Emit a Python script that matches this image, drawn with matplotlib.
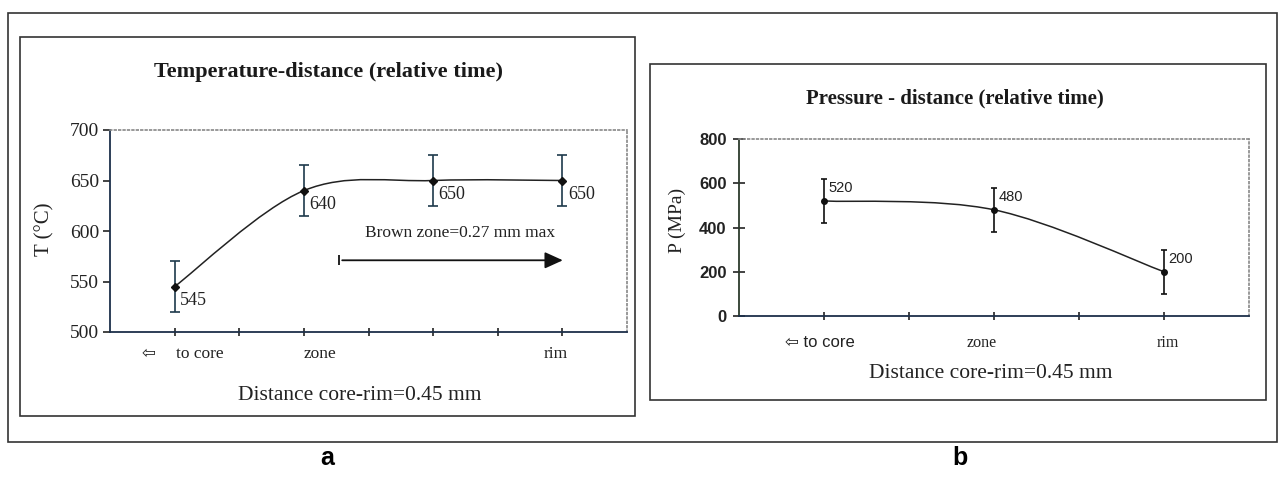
import matplotlib
matplotlib.use('Agg')
import matplotlib.pyplot as plt
from matplotlib.path import Path
from matplotlib.patches import PathPatch, Rectangle

# ---- data ----
temp_pos = [1, 3, 5, 7]
temp_vals = [545, 640, 650, 650]
temp_err = [25, 25, 25, 25]
temp_labels = ['545', '640', '650', '650']

press_pos = [1, 3, 5]
press_vals = [520, 480, 200]
press_err = [100, 100, 100]
press_labels = ['520', '480', '200']

temp_cats = ['\u21e6', 'to core', 'zone', 'rim']
press_cats = ['\u21e6 to core', 'zone', 'rim']

W, H = 1282, 482
SERIF = ['Liberation Serif', 'DejaVu Sans']
SANS = ['Liberation Sans', 'DejaVu Sans']


def fx(x):
    return x / W


def fy(y):
    return 1 - y / H


def smooth_path(xs, ys):
    # excel-like smoothed line: cubic bezier through the points
    pts = list(zip(xs, ys))
    n = len(pts)
    verts = [pts[0]]
    codes = [Path.MOVETO]
    for i in range(n - 1):
        p0 = pts[i - 1] if i > 0 else pts[i]
        p1 = pts[i]
        p2 = pts[i + 1]
        p3 = pts[i + 2] if i + 2 < n else pts[i + 1]
        c1 = (p1[0] + (p2[0] - p0[0]) / 6, p1[1] + (p2[1] - p0[1]) / 6)
        c2 = (p2[0] - (p3[0] - p1[0]) / 6, p2[1] - (p3[1] - p1[1]) / 6)
        verts += [c1, c2, p2]
        codes += [Path.CURVE4] * 3
    return Path(verts, codes)


fig = plt.figure(figsize=(W / 100, H / 100), dpi=100)

# frames round the whole figure and round each chart
for x0, y0, x1, y1 in [(8, 13, 1277, 442), (20, 37, 635, 416), (650, 64, 1266, 400)]:
    fig.patches.append(Rectangle((fx(x0), fy(y1)), fx(x1 - x0), (y1 - y0) / H,
                                 transform=fig.transFigure, fill=False,
                                 edgecolor='#333333', lw=1.2))

# ---------- a: temperature ----------
ax1 = fig.add_axes([fx(110), fy(332), fx(517), 202 / H])
ax1.add_patch(PathPatch(smooth_path(temp_pos, temp_vals), fill=False,
                        edgecolor='#222222', lw=1.1))
ax1.errorbar(temp_pos, temp_vals, yerr=temp_err, fmt='D', ms=4, color='#111111',
             ecolor='#1e3a4c', elinewidth=1.2, capsize=3.5, capthick=1.2)
for x, y, s in zip(temp_pos, temp_vals, temp_labels):
    ax1.annotate(s, (x, y), xytext=(4, -4), textcoords='offset points',
                 ha='left', va='top', fontsize=13, family=SERIF, color='#222222')
ax1.set_xlim(0, 8)
ax1.set_ylim(500, 700)
ax1.set_yticks([500, 550, 600, 650, 700])
ax1.set_xticks(range(1, 8))
ax1.set_xticklabels([])
ax1.tick_params(axis='y', direction='out', length=5, width=1.2, labelsize=14,
                colors='#222222', pad=3)
ax1.tick_params(axis='x', direction='inout', length=6, width=1.2, colors='#222222')
for t in ax1.get_yticklabels():
    t.set_family(SERIF)
ax1.spines['left'].set_color('#1c2f4a')
ax1.spines['bottom'].set_color('#1c2f4a')
ax1.spines['left'].set_linewidth(1.3)
ax1.spines['bottom'].set_linewidth(1.3)
for s in ['top', 'right']:
    ax1.spines[s].set_color('#888888')
    ax1.spines[s].set_linestyle(':')
    ax1.spines[s].set_linewidth(1.2)

tr1 = ax1.get_xaxis_transform()
ax1.text(0.59, -0.11, temp_cats[0], transform=tr1, ha='center', va='center',
         fontsize=12, family=SERIF, color='#222222')
ax1.text(1.02, -0.11, temp_cats[1], transform=tr1, ha='left', va='center',
         fontsize=12.5, family=SERIF, color='#222222')
ax1.text(3.25, -0.11, temp_cats[2], transform=tr1, ha='center', va='center',
         fontsize=12.5, family=SERIF, color='#222222')
ax1.text(6.89, -0.11, temp_cats[3], transform=tr1, ha='center', va='center',
         fontsize=12.5, family=SERIF, color='#222222')

ax1.text(5.42, 598, 'Brown zone=0.27 mm max', ha='center', va='center',
         fontsize=12.5, family=SERIF, color='#222222')
ax1.annotate('', xy=(7.05, 571), xytext=(3.55, 571),
             arrowprops=dict(arrowstyle='-|>,head_length=1.1,head_width=0.5',
                             color='#111111', lw=1.3))
ax1.plot([3.55], [571], marker='|', ms=7, mew=1.3, color='#111111')

fig.text(fx(329), fy(72), 'Temperature-distance (relative time)', ha='center',
         va='center', fontsize=16, fontweight='bold', family=SERIF, color='#1a1a1a')
fig.text(fx(45), fy(229), 'T (\u00b0C)', ha='center', va='center', rotation=90,
         fontsize=15, family=SERIF, color='#222222')
fig.text(fx(360), fy(395), 'Distance core-rim=0.45 mm', ha='center', va='center',
         fontsize=15.5, family=SERIF, color='#222222')

# ---------- b: pressure ----------
ax2 = fig.add_axes([fx(739), fy(316), fx(510), 177 / H])
ax2.add_patch(PathPatch(smooth_path(press_pos, press_vals), fill=False,
                        edgecolor='#222222', lw=1.1))
ax2.errorbar(press_pos, press_vals, yerr=press_err, fmt='o', ms=4, color='#111111',
             ecolor='#111111', elinewidth=1.2, capsize=2.5, capthick=1.2)
for x, y, s in zip(press_pos, press_vals, press_labels):
    ax2.annotate(s, (x, y), xytext=(3, 9), textcoords='offset points',
                 ha='left', va='center', fontsize=10.5, family=SANS, color='#222222')
ax2.set_xlim(0, 6)
ax2.set_ylim(0, 800)
ax2.set_yticks([0, 200, 400, 600, 800])
ax2.set_xticks(range(1, 6))
ax2.set_xticklabels([])
ax2.tick_params(axis='y', direction='inout', length=8, width=1.2, labelsize=12,
                colors='#222222', pad=5)
ax2.tick_params(axis='x', direction='inout', length=6, width=1.2, colors='#222222')
for t in ax2.get_yticklabels():
    t.set_family(SANS)
    t.set_fontweight('bold')
ax2.spines['left'].set_color('#2c3a2c')
ax2.spines['bottom'].set_color('#1c2f4a')
ax2.spines['left'].set_linewidth(1.3)
ax2.spines['bottom'].set_linewidth(1.3)
for s in ['top', 'right']:
    ax2.spines[s].set_color('#888888')
    ax2.spines[s].set_linestyle(':')
    ax2.spines[s].set_linewidth(1.2)

tr2 = ax2.get_xaxis_transform()
ax2.text(0.95, -0.15, press_cats[0], transform=tr2, ha='center', va='center',
         fontsize=12, family=SANS, color='#222222')
ax2.text(2.85, -0.15, press_cats[1], transform=tr2, ha='center', va='center',
         fontsize=11.5, family=SERIF, color='#222222')
ax2.text(5.04, -0.15, press_cats[2], transform=tr2, ha='center', va='center',
         fontsize=11.5, family=SERIF, color='#222222')

fig.text(fx(955), fy(98), 'Pressure - distance (relative time)', ha='center',
         va='center', fontsize=15, fontweight='bold', family=SERIF, color='#1a1a1a')
fig.text(fx(677), fy(220), 'P (MPa)', ha='center', va='center', rotation=90,
         fontsize=14, family=SERIF, color='#222222')
fig.text(fx(991), fy(373), 'Distance core-rim=0.45 mm', ha='center', va='center',
         fontsize=15.5, family=SERIF, color='#222222')

# panel letters
fig.text(fx(327), fy(458), 'a', ha='center', va='center', fontsize=18,
         fontweight='bold', family=SANS)
fig.text(fx(960), fy(458), 'b', ha='center', va='center', fontsize=18,
         fontweight='bold', family=SANS)

fig.savefig('out.png', dpi=100, facecolor='white')
